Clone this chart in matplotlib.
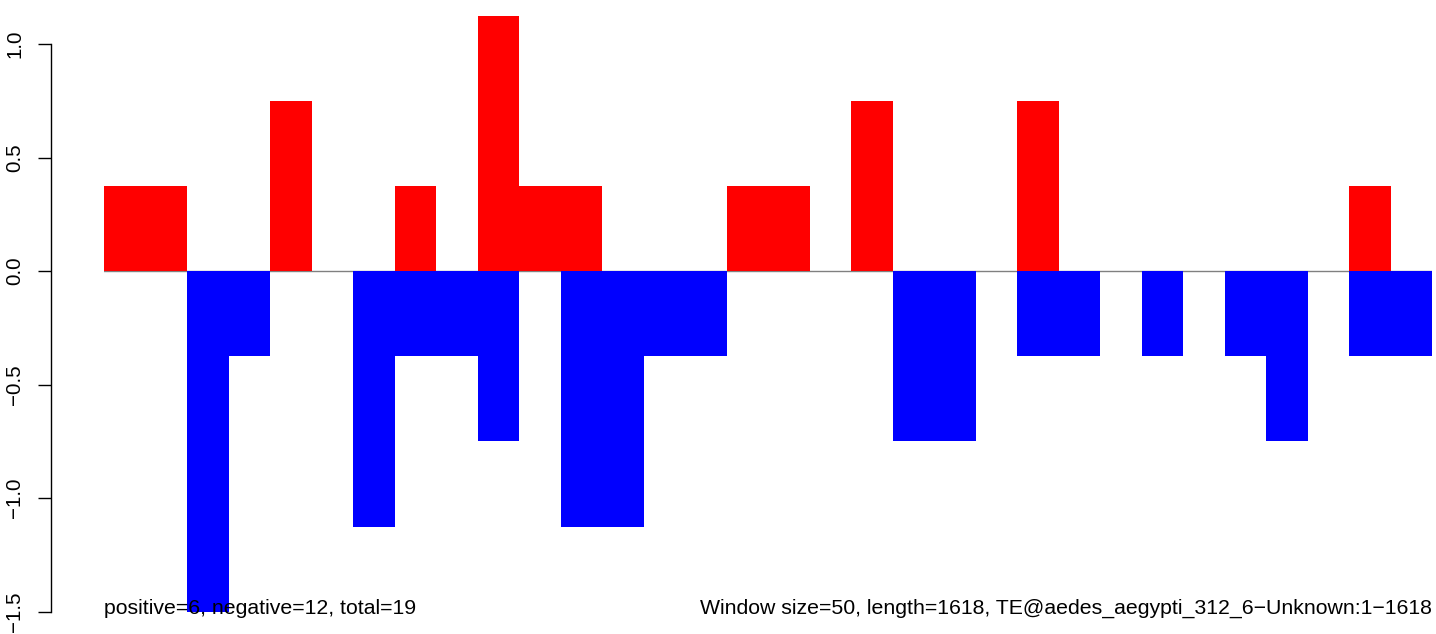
import matplotlib
matplotlib.use("Agg")
import matplotlib.pyplot as plt
import numpy as np

# window scores, one value per 50 bp window
positive = [0.375, 0.375, 0, 0, 0.75, 0, 0, 0.375, 0, 1.125, 0.375, 0.375, 0, 0, 0, 0.375,
            0.375, 0, 0.75, 0, 0, 0, 0.75, 0, 0, 0, 0, 0, 0, 0, 0.375, 0]
negative = [0, 0, -1.5, -0.375, 0, 0, -1.125, -0.375, -0.375, -0.75, 0, -1.125, -1.125, -0.375, -0.375, 0,
            0, 0, 0, -0.75, -0.75, 0, -0.375, -0.375, 0, -0.375, 0, -0.375, -0.75, 0, -0.375, -0.375]
yticks = [-1.5, -1.0, -0.5, 0.0, 0.5, 1.0]
left_note = "positive=6, negative=12, total=19"
right_note = "Window size=50, length=1618, TE@aedes_aegypti_312_6\u2212Unknown:1\u22121618"

plt.rcParams['font.family'] = ['Liberation Sans', 'DejaVu Sans']

W, H = 1436, 634
fig = plt.figure(figsize=(W / 100, H / 100), dpi=100, facecolor='white')
ax = fig.add_axes([104 / W, 0, (1432 - 104) / W, 1])

n = len(positive)
x = np.arange(n)
ax.plot([0, n], [0, 0], color='gray', lw=1, zorder=1)
ax.bar(x, positive, width=1, align='edge', color='#ff0000', lw=0, zorder=2)
ax.bar(x, negative, width=1, align='edge', color='#0000ff', lw=0, zorder=2)

ax.set_xlim(0, n)
ax.set_ylim(-1.598, 1.194)

for s in ['top', 'right', 'bottom']:
    ax.spines[s].set_visible(False)
ax.spines['left'].set_position(('outward', 53.5 * 0.72))
ax.spines['left'].set_bounds(-1.5, 1.0)
ax.spines['left'].set_linewidth(1)
ax.set_xticks([])
ax.set_yticks(yticks)
ax.set_yticklabels([f"{v:.1f}".replace('-', '\u2212') for v in yticks],
                   rotation=90, va='center', fontsize=14.8)
ax.tick_params(axis='y', length=9.4, width=1, pad=9.5)

ax.text(0, -1.509, left_note, ha='left', va='baseline', fontsize=15.3, zorder=3)
ax.text(n, -1.509, right_note, ha='right', va='baseline', fontsize=15.3, zorder=3)

fig.savefig('out.png', dpi=100, facecolor='white')
